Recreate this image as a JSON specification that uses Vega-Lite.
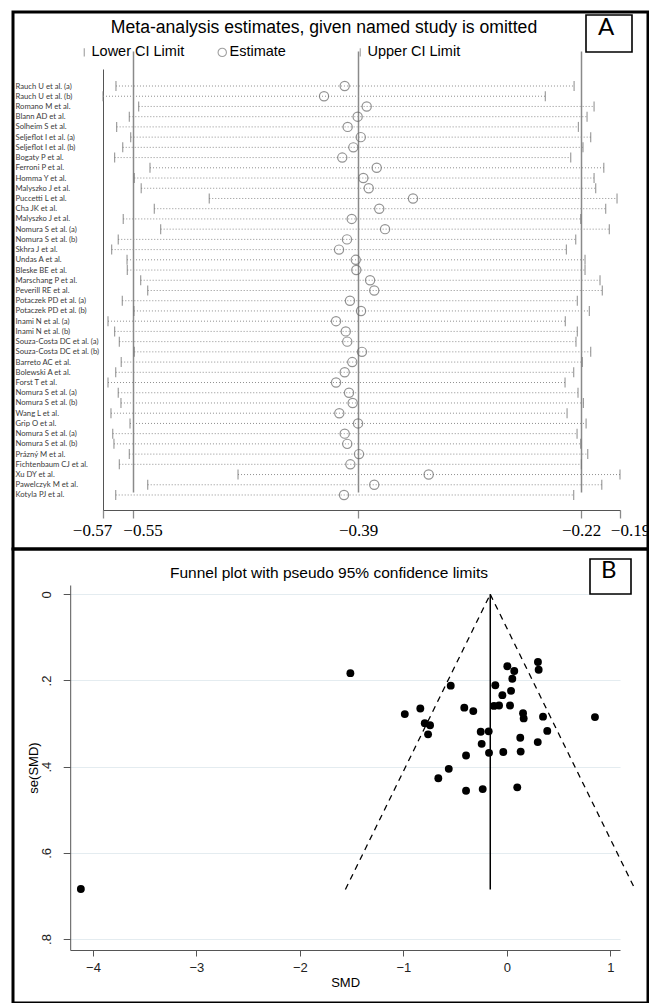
{
  "$schema": "https://vega.github.io/schema/vega-lite/v6.json",
  "background": "white",
  "padding": {"left": 11, "top": 10, "right": 0, "bottom": 0},
  "bounds": "flush",
  "spacing": 0,
  "resolve": {
    "scale": {"color": "independent"},
    "legend": {"color": "independent"}
  },
  "datasets": {
    "loo": [
      {"n": 1, "study": "Rauch U et al. (a)", "lower": -0.5646, "estimate": -0.3952, "upper": -0.2253},
      {"n": 2, "study": "Rauch U et al. (b)", "lower": -0.5742, "estimate": -0.4105, "upper": -0.2466},
      {"n": 3, "study": "Romano M et al.", "lower": -0.5478, "estimate": -0.3789, "upper": -0.2105},
      {"n": 4, "study": "Blann AD et al.", "lower": -0.5547, "estimate": -0.3856, "upper": -0.2157},
      {"n": 5, "study": "Solheim S et al.", "lower": -0.5641, "estimate": -0.3930, "upper": -0.2221},
      {"n": 6, "study": "Seljeflot I et al. (a)", "lower": -0.5537, "estimate": -0.3833, "upper": -0.2130},
      {"n": 7, "study": "Seljeflot I et al. (b)", "lower": -0.5596, "estimate": -0.3888, "upper": -0.2187},
      {"n": 8, "study": "Bogaty P et al.", "lower": -0.5656, "estimate": -0.3970, "upper": -0.2278},
      {"n": 9, "study": "Ferroni P et al.", "lower": -0.5394, "estimate": -0.3715, "upper": -0.2033},
      {"n": 10, "study": "Homma Y et al.", "lower": -0.5510, "estimate": -0.3814, "upper": -0.2105},
      {"n": 11, "study": "Malyszko J et al.", "lower": -0.5459, "estimate": -0.3774, "upper": -0.2093},
      {"n": 12, "study": "Puccetti L et al.", "lower": -0.4955, "estimate": -0.3446, "upper": -0.1935},
      {"n": 13, "study": "Cha JK et al.", "lower": -0.5362, "estimate": -0.3696, "upper": -0.2019},
      {"n": 14, "study": "Malyszko J et al.", "lower": -0.5592, "estimate": -0.3900, "upper": -0.2204},
      {"n": 15, "study": "Nomura S et al. (a)", "lower": -0.5315, "estimate": -0.3653, "upper": -0.1992},
      {"n": 16, "study": "Nomura S et al. (b)", "lower": -0.5629, "estimate": -0.3935, "upper": -0.2241},
      {"n": 17, "study": "Skhra J et al.", "lower": -0.5678, "estimate": -0.3994, "upper": -0.2310},
      {"n": 18, "study": "Undas A et al.", "lower": -0.5564, "estimate": -0.3870, "upper": -0.2172},
      {"n": 19, "study": "Bleske BE et al.", "lower": -0.5562, "estimate": -0.3866, "upper": -0.2172},
      {"n": 20, "study": "Marschang P et al.", "lower": -0.5463, "estimate": -0.3764, "upper": -0.2061},
      {"n": 21, "study": "Peverill RE et al.", "lower": -0.5411, "estimate": -0.3733, "upper": -0.2044},
      {"n": 22, "study": "Potaczek PD et al. (a)", "lower": -0.5599, "estimate": -0.3913, "upper": -0.2229},
      {"n": 23, "study": "Potaczek PD et al. (b)", "lower": -0.5513, "estimate": -0.3831, "upper": -0.2140},
      {"n": 24, "study": "Inami N et al. (a)", "lower": -0.5705, "estimate": -0.4016, "upper": -0.2318},
      {"n": 25, "study": "Inami N et al. (b)", "lower": -0.5656, "estimate": -0.3944, "upper": -0.2229},
      {"n": 26, "study": "Souza-Costa DC et al. (a)", "lower": -0.5621, "estimate": -0.3933, "upper": -0.2239},
      {"n": 27, "study": "Souza-Costa DC et al. (b)", "lower": -0.5510, "estimate": -0.3824, "upper": -0.2130},
      {"n": 28, "study": "Barreto AC et al.", "lower": -0.5607, "estimate": -0.3896, "upper": -0.2192},
      {"n": 29, "study": " Bolewski A et al.", "lower": -0.5648, "estimate": -0.3952, "upper": -0.2256},
      {"n": 30, "study": "Forst T et al.", "lower": -0.5705, "estimate": -0.4016, "upper": -0.2320},
      {"n": 31, "study": "Nomura S et al. (a)", "lower": -0.5629, "estimate": -0.3920, "upper": -0.2224},
      {"n": 32, "study": "Nomura S et al. (b)", "lower": -0.5609, "estimate": -0.3893, "upper": -0.2184},
      {"n": 33, "study": "Wang L et al.", "lower": -0.5683, "estimate": -0.3992, "upper": -0.2305},
      {"n": 34, "study": "Grip O et al.", "lower": -0.5542, "estimate": -0.3853, "upper": -0.2164},
      {"n": 35, "study": "Nomura S et al. (a)", "lower": -0.5670, "estimate": -0.3952, "upper": -0.2231},
      {"n": 36, "study": "Nomura S et al. (b)", "lower": -0.5661, "estimate": -0.3933, "upper": -0.2204},
      {"n": 37, "study": "Prázný M et al.", "lower": -0.5547, "estimate": -0.3846, "upper": -0.2152},
      {"n": 38, "study": "Fichtenbaum CJ et al.", "lower": -0.5621, "estimate": -0.3910, "upper": -0.2199},
      {"n": 39, "study": "Xu DY et al.", "lower": -0.4742, "estimate": -0.3330, "upper": -0.1913},
      {"n": 40, "study": "Pawelczyk M et al.", "lower": -0.5411, "estimate": -0.3733, "upper": -0.2048},
      {"n": 41, "study": "Kotyla PJ et al.", "lower": -0.5648, "estimate": -0.3957, "upper": -0.2256}
    ],
    "studies": [
      {"smd": -1.512, "se": 0.183}, {"smd": 0.301, "se": 0.157}, {"smd": 0.308, "se": 0.175},
      {"smd": 0.005, "se": 0.167}, {"smd": 0.072, "se": 0.178}, {"smd": 0.053, "se": 0.196},
      {"smd": -0.542, "se": 0.212}, {"smd": -0.111, "se": 0.211}, {"smd": 0.041, "se": 0.224},
      {"smd": -0.043, "se": 0.234}, {"smd": -0.836, "se": 0.265}, {"smd": -0.986, "se": 0.278},
      {"smd": -0.411, "se": 0.263}, {"smd": -0.324, "se": 0.271}, {"smd": -0.124, "se": 0.259},
      {"smd": -0.075, "se": 0.258}, {"smd": 0.031, "se": 0.258}, {"smd": 0.157, "se": 0.276},
      {"smd": 0.163, "se": 0.288}, {"smd": 0.350, "se": 0.284}, {"smd": 0.852, "se": 0.285},
      {"smd": -0.793, "se": 0.299}, {"smd": -0.742, "se": 0.304}, {"smd": -0.761, "se": 0.325},
      {"smd": -0.252, "se": 0.319}, {"smd": -0.175, "se": 0.318}, {"smd": 0.391, "se": 0.317},
      {"smd": 0.130, "se": 0.333}, {"smd": -0.243, "se": 0.347}, {"smd": 0.299, "se": 0.343},
      {"smd": -0.394, "se": 0.374}, {"smd": -0.172, "se": 0.368}, {"smd": -0.034, "se": 0.366},
      {"smd": 0.134, "se": 0.365}, {"smd": -0.561, "se": 0.405}, {"smd": -0.662, "se": 0.427},
      {"smd": -0.394, "se": 0.456}, {"smd": -0.233, "se": 0.452}, {"smd": 0.101, "se": 0.448},
      {"smd": -4.117, "se": 0.684}
    ],
    "limits": [
      {"side": "lower", "smd": -0.16, "se": 0},
      {"side": "lower", "smd": -1.56, "se": 0.685},
      {"side": "upper", "smd": -0.16, "se": 0},
      {"side": "upper", "smd": 1.24, "se": 0.685}
    ],
    "pooled": [
      {"smd": -0.16, "se_top": 0, "se_bottom": 0.685}
    ]
  },
  "vconcat": [
    {
      "width": 635,
      "height": 537,
      "title": {
        "text": "Meta-analysis estimates, given named study is omitted",
        "fontSize": 17.6,
        "color": "black",
        "anchor": "middle",
        "frame": "group",
        "dx": -6.5,
        "offset": -25
      },
      "data": {"name": "loo"},
      "encoding": {
        "y": {
          "field": "n",
          "type": "quantitative",
          "scale": {"domain": [-0.6626, 42.467], "range": [57, 498], "nice": false, "zero": false},
          "axis": {
            "title": null,
            "orient": "left",
            "offset": -90,
            "ticks": false,
            "values": [1, 2, 3, 4, 5, 6, 7, 8, 9, 10, 11, 12, 13, 14, 15, 16, 17, 18, 19, 20, 21, 22, 23, 24, 25, 26, 27, 28, 29, 30, 31, 32, 33, 34, 35, 36, 37, 38, 39, 40, 41],
            "labelExpr": "['Rauch U et al. (a)', 'Rauch U et al. (b)', 'Romano M et al.', 'Blann AD et al.', 'Solheim S et al.', 'Seljeflot I et al. (a)', 'Seljeflot I et al. (b)', 'Bogaty P et al.', 'Ferroni P et al.', 'Homma Y et al.', 'Malyszko J et al.', 'Puccetti L et al.', 'Cha JK et al.', 'Malyszko J et al.', 'Nomura S et al. (a)', 'Nomura S et al. (b)', 'Skhra J et al.', 'Undas A et al.', 'Bleske BE et al.', 'Marschang P et al.', 'Peverill RE et al.', 'Potaczek PD et al. (a)', 'Potaczek PD et al. (b)', 'Inami N et al. (a)', 'Inami N et al. (b)', 'Souza-Costa DC et al. (a)', 'Souza-Costa DC et al. (b)', 'Barreto AC et al.', ' Bolewski A et al.', 'Forst T et al.', 'Nomura S et al. (a)', 'Nomura S et al. (b)', 'Wang L et al.', 'Grip O et al.', 'Nomura S et al. (a)', 'Nomura S et al. (b)', 'Prázný M et al.', 'Fichtenbaum CJ et al.', 'Xu DY et al.', 'Pawelczyk M et al.', 'Kotyla PJ et al.'][datum.value - 1]",
            "labelAlign": "left",
            "labelBaseline": "middle",
            "labelPadding": 88,
            "labelFont": "Lato",
            "labelFontSize": 7.7,
            "labelColor": "#3a3a3a",
            "labelLimit": 0,
            "labelOverlap": false,
            "labelFlush": false,
            "labelBound": false,
            "domainColor": "#555",
            "grid": false
          }
        }
      },
      "layer": [
        {
          "mark": {"type": "rule", "strokeDash": [1, 2], "strokeWidth": 1},
          "encoding": {
            "x": {
              "field": "lower",
              "type": "quantitative",
              "scale": {"domain": [-0.5742, -0.1913], "range": [90, 607], "nice": false, "zero": false},
              "axis": {
                "title": null,
                "offset": -39,
                "values": [-0.5742, -0.552, -0.3853, -0.2201, -0.1913],
                "format": ".2f",
                "labelFont": "Liberation Serif",
                "labelFontSize": 17,
                "labelColor": "black",
                "labelPadding": 4,
                "labelOverlap": false,
                "labelFlush": false,
                "labelOffset": {
                  "condition": [
                    {"test": "datum.value < -0.56", "value": -11},
                    {"test": "datum.value < -0.54", "value": 9.5},
                    {"test": "datum.value > -0.2", "value": 10}
                  ],
                  "value": 0
                },
                "tickSize": 8,
                "tickColor": "#8a8a8a",
                "tickWidth": 1.3,
                "domainColor": "#555",
                "grid": true,
                "gridColor": "#8a8a8a",
                "gridWidth": 1.5,
                "gridOpacity": {"condition": {"test": "datum.value > -0.56 && datum.value < -0.21", "value": 1}, "value": 0}
              }
            },
            "x2": {"field": "upper"},
            "color": {
              "datum": "A",
              "scale": {"range": ["#8f8f8f"]},
              "legend": {
                "orient": "none",
                "legendX": 573,
                "legendY": 3,
                "title": "A",
                "titleFont": "Lato",
                "titleFontSize": 24,
                "titleFontWeight": "normal",
                "titleColor": "black",
                "titleOrient": "left",
                "titlePadding": 4,
                "labelExpr": "''",
                "labelFontSize": 1,
                "labelOffset": 0,
                "symbolType": "square",
                "symbolOpacity": 0,
                "symbolSize": 1,
                "symbolStrokeWidth": 0,
                "padding": 12,
                "strokeColor": "black"
              }
            }
          }
        },
        {
          "mark": {"type": "point", "filled": false, "size": 100, "strokeWidth": 1.2, "color": "#777"},
          "encoding": {
            "x": {"field": "lower", "type": "quantitative"},
            "shape": {
              "datum": "Lower CI Limit",
              "scale": {
                "domain": ["Lower CI Limit", "Estimate", "Upper CI Limit"],
                "range": ["M0,-1L0,1", "circle", "M0,-1L0,1"]
              },
              "legend": {
                "orient": "none",
                "legendX": 64,
                "legendY": 33,
                "direction": "horizontal",
                "columns": 3,
                "gridAlign": "all",
                "columnPadding": 30,
                "title": null,
                "labelFont": "Liberation Sans",
                "labelFontSize": 14.5,
                "labelColor": "black",
                "labelOffset": 0,
                "labelLimit": 0,
                "symbolSize": 70,
                "symbolStrokeColor": "#777",
                "symbolStrokeWidth": 1.1,
                "symbolFillColor": "transparent",
                "padding": 0
              }
            }
          }
        },
        {
          "mark": {"type": "point", "filled": false, "size": 85, "strokeWidth": 1.2, "color": "#666"},
          "encoding": {
            "x": {"field": "estimate", "type": "quantitative"},
            "shape": {"datum": "Estimate"}
          }
        },
        {
          "mark": {"type": "point", "filled": false, "size": 100, "strokeWidth": 1.2, "color": "#777"},
          "encoding": {
            "x": {"field": "upper", "type": "quantitative"},
            "shape": {"datum": "Upper CI Limit"}
          }
        }
      ]
    },
    {
      "width": 635,
      "height": 454,
      "title": {
        "text": "Funnel plot with pseudo 95% confidence limits",
        "fontSize": 15.5,
        "color": "black",
        "anchor": "middle",
        "frame": "group",
        "dx": -1.5,
        "offset": -32.4
      },
      "layer": [
        {
          "data": {"name": "limits"},
          "mark": {"type": "line", "color": "black", "strokeWidth": 1.3, "strokeDash": [6, 5]},
          "encoding": {
            "x": {
              "field": "smd",
              "type": "quantitative",
              "scale": {"domain": [-4.22, 1.094], "range": [57.2, 607], "nice": false, "zero": false},
              "axis": {
                "title": "SMD",
                "titleFontSize": 13,
                "titleFontWeight": "normal",
                "titleColor": "black",
                "titlePadding": 2,
                "offset": -53,
                "values": [-4, -3, -2, -1, 0, 1],
                "format": "d",
                "labelFontSize": 13,
                "labelColor": "#222",
                "labelPadding": 5,
                "tickSize": 6,
                "tickColor": "#555",
                "domainColor": "#555",
                "grid": false
              }
            },
            "y": {
              "field": "se",
              "type": "quantitative",
              "scale": {"domain": [-0.0216, 0.8255], "range": [36, 401], "nice": false, "zero": false},
              "axis": {
                "title": "se(SMD)",
                "titleFontSize": 13,
                "titleFontWeight": "normal",
                "titleColor": "black",
                "titlePadding": 0,
                "offset": -57.2,
                "values": [0, 0.2, 0.4, 0.6, 0.8],
                "labelExpr": "datum.value == 0 ? '0' : replace(format(datum.value, '.1f'), '0.', '.')",
                "labelAngle": -90,
                "labelAlign": "center",
                "labelBaseline": "bottom",
                "labelFontSize": 13,
                "labelColor": "#222",
                "labelPadding": 10,
                "tickSize": 7,
                "tickColor": "#555",
                "domainColor": "#555",
                "grid": true,
                "gridColor": "#e4ecf0",
                "gridWidth": 1.2
              }
            },
            "detail": {"field": "side"}
          }
        },
        {
          "data": {"name": "pooled"},
          "mark": {"type": "rule", "color": "black", "strokeWidth": 1.5},
          "encoding": {
            "x": {"field": "smd", "type": "quantitative"},
            "y": {"field": "se_top", "type": "quantitative"},
            "y2": {"field": "se_bottom"}
          }
        },
        {
          "data": {"name": "studies"},
          "mark": {"type": "circle", "size": 62, "opacity": 1},
          "encoding": {
            "x": {"field": "smd", "type": "quantitative"},
            "y": {"field": "se", "type": "quantitative"},
            "color": {
              "datum": "B",
              "scale": {"range": ["black"]},
              "legend": {
                "orient": "none",
                "legendX": 577,
                "legendY": 10,
                "title": "B",
                "titleFont": "Lato",
                "titleFontSize": 24,
                "titleFontWeight": "normal",
                "titleColor": "black",
                "titleOrient": "left",
                "titlePadding": 2,
                "labelExpr": "''",
                "labelFontSize": 1,
                "labelOffset": 0,
                "symbolType": "square",
                "symbolOpacity": 0,
                "symbolSize": 1,
                "symbolStrokeWidth": 0,
                "padding": 11,
                "strokeColor": "black"
              }
            }
          }
        }
      ]
    }
  ],
  "config": {
    "view": {"stroke": "black", "strokeWidth": 3},
    "axis": {"labelFont": "Liberation Sans", "titleFont": "Liberation Sans"},
    "title": {"font": "Liberation Sans", "fontWeight": "normal"},
    "legend": {"strokeWidth": 1.6}
  }
}
